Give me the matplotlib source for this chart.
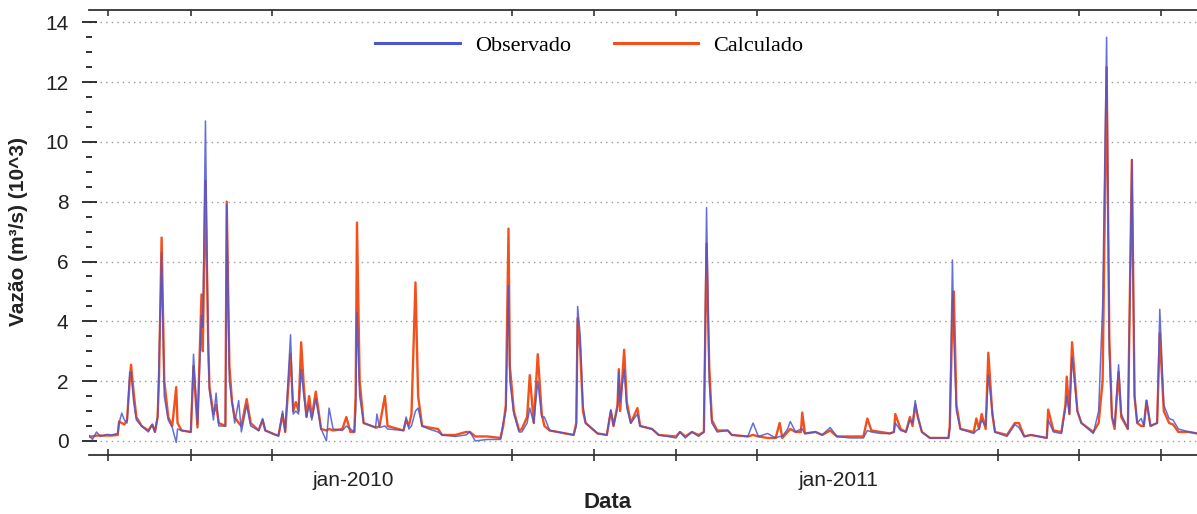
import matplotlib
matplotlib.use('Agg')
import matplotlib.pyplot as plt
import matplotlib.dates as mdates
import pandas as pd
from matplotlib.ticker import MultipleLocator

plt.rcParams['font.family'] = ['Liberation Sans', 'DejaVu Sans']

# dias contados a partir de 16/06/2009 e vazoes em m3/s (x 10^3)
inicio = pd.Timestamp('2009-06-16')
fim_dias = 834

dias = [
    0, 3, 6, 9, 14, 17, 22, 23, 25, 27, 29, 31, 32, 34, 36, 40, 45, 48, 50, 52,
    53, 55, 57, 60, 63, 66, 67, 70, 77, 79, 82, 85, 86, 88, 90, 91, 94, 96, 98, 103,
    104, 106, 108, 110, 113, 115, 119, 122, 128, 131, 133, 141, 143, 146, 148, 152, 154, 156, 158, 160,
    162, 164, 166, 168, 171, 175, 179, 181, 184, 191, 194, 197, 200, 201, 202, 204, 207, 216, 217, 219,
    223, 225, 237, 239, 241, 243, 246, 248, 251, 256, 263, 266, 276, 284, 287, 291, 300, 310, 312, 314,
    316, 317, 320, 324, 326, 330, 332, 335, 338, 341, 343, 347, 365, 367, 368, 370, 372, 374, 383, 390,
    393, 395, 398, 399, 400, 403, 405, 408, 413, 415, 424, 429, 442, 445, 449, 454, 459, 463, 465, 467,
    469, 473, 481, 484, 496, 500, 504, 511, 517, 520, 522, 526, 528, 532, 536, 537, 539, 547, 552, 558,
    563, 573, 583, 586, 589, 596, 603, 606, 607, 611, 615, 618, 620, 622, 624, 627, 633, 647, 648, 650,
    651, 653, 656, 666, 668, 670, 672, 675, 677, 680, 682, 691, 697, 700, 704, 709, 721, 722, 726, 732,
    735, 736, 738, 740, 744, 747, 756, 760, 763, 766, 768, 770, 772, 775, 777, 782, 785, 787, 789, 792,
    794, 796, 799, 804, 806, 809, 813, 816, 820, 828, 834,
]

observado = [
    0.20, 0.05, 0.30, 0.15, 0.22, 0.20, 0.25, 0.60, 0.93, 0.70, 0.60, 2.30, 2.30, 1.30, 0.70, 0.50, 0.30, 0.55, 0.30, 0.80,
    2.50, 6.30, 1.50, 0.70, 0.45, -0.05, 0.40, 0.35, 0.30, 2.90, 0.55, 4.20, 3.80, 10.70, 3.00, 1.70, 0.70, 1.60, 0.50, 0.50,
    7.90, 2.00, 1.30, 0.60, 1.35, 0.30, 1.20, 0.50, 0.35, 0.75, 0.35, 0.20, 0.15, 1.00, 0.30, 3.55, 0.90, 1.00, 0.90, 2.40,
    1.50, 0.80, 1.20, 0.70, 1.40, 0.40, 0.00, 1.10, 0.40, 0.35, 0.50, 0.40, 0.30, 1.00, 4.30, 1.50, 0.60, 0.45, 0.90, 0.45,
    0.50, 0.40, 0.35, 0.80, 0.40, 0.50, 1.00, 1.10, 0.50, 0.40, 0.30, 0.20, 0.15, 0.20, 0.30, 0.00, 0.05, 0.05, 0.60, 1.00,
    5.20, 2.00, 0.90, 0.30, 0.30, 0.60, 1.10, 0.60, 2.00, 0.80, 0.80, 0.35, 0.20, 0.50, 4.50, 3.50, 1.20, 0.60, 0.25, 0.20,
    1.05, 0.50, 1.10, 2.30, 1.30, 2.40, 1.10, 0.60, 0.90, 0.50, 0.40, 0.20, 0.10, 0.30, 0.10, 0.30, 0.15, 0.30, 7.80, 2.00,
    0.60, 0.30, 0.35, 0.20, 0.15, 0.60, 0.15, 0.25, 0.10, 0.15, 0.15, 0.40, 0.65, 0.30, 0.40, 0.40, 0.25, 0.30, 0.20, 0.45,
    0.15, 0.10, 0.10, 0.35, 0.30, 0.25, 0.25, 0.30, 0.60, 0.35, 0.30, 0.70, 0.60, 1.35, 0.80, 0.30, 0.10, 0.10, 0.40, 6.05,
    3.50, 1.00, 0.40, 0.25, 0.35, 0.40, 0.70, 0.50, 2.20, 1.00, 0.30, 0.15, 0.55, 0.45, 0.15, 0.20, 0.10, 0.70, 0.30, 0.25,
    1.10, 1.50, 0.90, 2.80, 1.00, 0.60, 0.25, 1.00, 4.50, 13.50, 3.00, 0.80, 0.50, 2.55, 0.90, 0.40, 9.40, 1.50, 0.60, 0.75,
    0.50, 1.35, 0.50, 0.60, 4.40, 1.20, 0.75, 0.70, 0.40, 0.30, 0.25,
]

calculado = [
    0.15, 0.15, 0.18, 0.18, 0.18, 0.18, 0.20, 0.65, 0.60, 0.55, 0.70, 2.00, 2.55, 1.60, 0.80, 0.50, 0.35, 0.55, 0.30, 0.80,
    2.00, 6.80, 2.00, 0.80, 0.50, 1.80, 0.60, 0.35, 0.30, 2.50, 0.45, 4.90, 3.00, 8.70, 3.50, 1.80, 0.90, 1.20, 0.60, 0.50,
    8.00, 2.50, 1.30, 0.80, 0.60, 0.50, 1.40, 0.60, 0.35, 0.70, 0.35, 0.20, 0.20, 0.90, 0.30, 2.90, 1.00, 1.30, 1.00, 3.30,
    1.80, 0.80, 1.50, 0.80, 1.65, 0.40, 0.35, 0.40, 0.35, 0.40, 0.80, 0.30, 0.30, 1.50, 7.30, 2.00, 0.60, 0.45, 0.45, 0.50,
    1.50, 0.50, 0.35, 0.70, 0.50, 0.90, 5.30, 1.50, 0.50, 0.45, 0.40, 0.20, 0.20, 0.30, 0.30, 0.15, 0.15, 0.10, 0.50, 1.20,
    7.10, 2.50, 1.00, 0.35, 0.40, 0.80, 2.20, 0.60, 2.90, 0.90, 0.50, 0.35, 0.20, 0.60, 4.10, 3.00, 1.00, 0.60, 0.25, 0.20,
    1.00, 0.50, 1.20, 2.40, 1.00, 3.05, 1.30, 0.60, 1.10, 0.50, 0.40, 0.20, 0.15, 0.30, 0.15, 0.30, 0.20, 0.30, 6.60, 2.50,
    0.70, 0.35, 0.35, 0.20, 0.15, 0.20, 0.15, 0.10, 0.10, 0.60, 0.10, 0.30, 0.40, 0.30, 0.30, 0.95, 0.25, 0.30, 0.20, 0.35,
    0.15, 0.15, 0.15, 0.75, 0.35, 0.30, 0.25, 0.30, 0.90, 0.40, 0.30, 0.80, 0.50, 1.20, 0.80, 0.30, 0.10, 0.10, 0.50, 4.30,
    5.00, 1.20, 0.40, 0.30, 0.75, 0.40, 0.90, 0.40, 2.95, 0.90, 0.30, 0.20, 0.60, 0.60, 0.15, 0.20, 0.10, 1.05, 0.35, 0.30,
    1.20, 2.15, 0.90, 3.30, 1.00, 0.60, 0.30, 0.60, 2.00, 12.50, 3.50, 0.80, 0.40, 2.30, 0.80, 0.40, 9.40, 1.50, 0.60, 0.50,
    0.50, 1.35, 0.50, 0.60, 3.60, 1.00, 0.60, 0.55, 0.30, 0.30, 0.25,
]

# meses com marca no eixo e rotulos anuais
meses_marca = [5, 7, 9, 11]
datas_rotulo = ['2010-01-01', '2011-01-01']
rotulos_x = ['jan-2010', 'jan-2011']

cor_obs = '#4a56d2'
cor_calc = '#f4501c'

datas = inicio + pd.to_timedelta(dias, unit='D')

W, H = 1197, 514
fig = plt.figure(figsize=(W / 100, H / 100), dpi=100)
ax = fig.add_axes([88.5 / W, 1 - 455 / H, (W - 88.5) / W, (455 - 10) / H])

ax.plot(datas, calculado, color=cor_calc, lw=1.7, label='Calculado', zorder=2)
ax.plot(datas, observado, color=cor_obs, lw=1.1, alpha=0.85, label='Observado', zorder=3)

ax.set_xlim(inicio, inicio + pd.Timedelta(days=fim_dias))
ax.set_ylim(-0.47, 14.41)

for lado in ['left', 'right', 'top']:
    ax.spines[lado].set_visible(False)
ax.spines['bottom'].set_color('#333333')
ax.spines['bottom'].set_linewidth(1.3)

# eixo y
ax.yaxis.set_major_locator(MultipleLocator(2))
ax.yaxis.set_minor_locator(MultipleLocator(0.5))
ax.tick_params(axis='y', which='major', direction='inout', length=10.8, width=1.3,
               pad=9, labelsize=15, colors='#222222')
ax.tick_params(axis='y', which='minor', direction='inout', length=4.3, width=1.3,
               color='#222222')
ax.yaxis.grid(True, which='major', linestyle=(0, (1, 3)), color='#9a9a9a', lw=1.0)
ax.set_axisbelow(True)

# eixo x
ax.set_xticks(pd.to_datetime(datas_rotulo), labels=rotulos_x)
ax.xaxis.set_minor_locator(mdates.MonthLocator(bymonth=meses_marca))
ax.tick_params(axis='x', which='major', length=0, pad=11.5, labelsize=15, labelcolor='#222222')
ax.tick_params(axis='x', which='minor', direction='inout', length=8, width=1.2, color='#333333')

topo = ax.secondary_xaxis('top')
topo.xaxis.set_major_locator(mdates.MonthLocator(bymonth=meses_marca))
topo.tick_params(axis='x', direction='in', length=4, width=1.2, color='#333333', labeltop=False)
topo.spines['top'].set_color('#333333')
topo.spines['top'].set_linewidth(1.3)

fig.text(18.5 / W, 1 - 232 / H, 'Vazão (m³/s) (10^3)', rotation=90, ha='center', va='center',
         fontsize=15, fontweight='bold', color='#222222')
fig.text(608 / W, 1 - 503 / H, 'Data', ha='center', va='center',
         fontsize=16, fontweight='bold', color='#222222')

h, l = ax.get_legend_handles_labels()
leg = ax.legend(h[::-1], l[::-1], loc='center', bbox_to_anchor=(589.5 / W, 1 - 46 / H),
                bbox_transform=fig.transFigure, ncol=2, frameon=False, borderpad=0,
                handlelength=3.8, handletextpad=0.7, columnspacing=1.9,
                prop={'family': 'Liberation Serif', 'size': 16})
for linha in leg.get_lines():
    linha.set_linewidth(2.2)
    linha.set_alpha(1)

fig.savefig('out.png', dpi=100)
